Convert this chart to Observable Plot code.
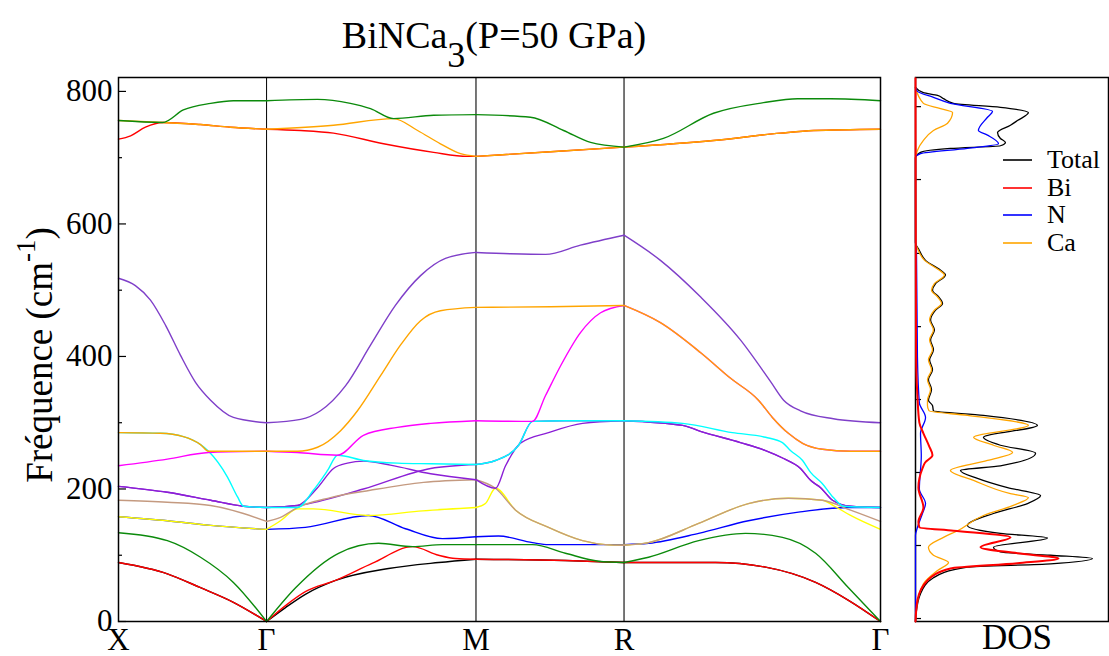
<!DOCTYPE html>
<html><head><meta charset="utf-8">
<script src="https://cdn.jsdelivr.net/npm/d3@7"></script>
<script src="https://cdn.jsdelivr.net/npm/@observablehq/plot@0.6"></script>
<style>
body{margin:0;background:#fff}
#wrap{position:relative;width:1109px;height:656px;overflow:hidden;background:#fff;font-family:"Liberation Serif","Times New Roman",Times,"Nimbus Roman","DejaVu Serif",serif;color:#000}
.abs{position:absolute;white-space:nowrap}
</style></head><body>
<div id="wrap">
  <div id="main" class="abs" style="left:0;top:0"></div>
  <div id="dos" class="abs" style="left:900px;top:0"></div>
  <div id="title" class="abs" style="left:0;top:16px;width:988px;text-align:center;font-size:38px;line-height:38px"></div>
  <div id="ylab" class="abs" style="left:-110px;top:335px;width:300px;height:40px;line-height:40px;font-size:37px;text-align:center;transform:rotate(-90deg)"></div>
  <div id="doslab" class="abs" style="left:917px;top:620px;width:200px;height:35px;text-align:center;font-size:35px;line-height:35px"></div>
  <div id="legend"></div>
</div>
<script>
// ---------- text ----------
const titleMain = "BiNCa", titleSub = "3", titleRest = "(P=50 GPa)";
const yLabelText = "Fréquence (cm", yLabelSup = "-1", yLabelEnd = ")";
const dosLabelText = "DOS";

// ---------- k-path ----------
const kNodes = [0, 0.5, 1.2071, 1.7071, 2.5731];
const kLabels = ["X", "Γ", "M", "R", "Γ"];
const yTicksMajor = [0, 200, 400, 600, 800];
const yTicksMinor = [100, 300, 500, 700];
const dosTicks = [4.5, 114.7, 224.9, 335, 445, 555.5, 667, 777];

// ---------- phonon branches: [k, frequency cm-1] ----------
const black = [[0,89],[0.165,72],[0.277,51],[0.388,29],[0.5,0],[0.564,21],[0.631,41],[0.733,62],[0.912,80],[1.081,89],[1.2071,94],[1.509,92],[1.7071,89],[2.016,89],[2.185,82],[2.354,59],[2.465,32],[2.5731,0]];
const red = [[0,89],[0.165,72],[0.277,51],[0.388,29],[0.5,0],[0.564,24],[0.631,45],[0.733,62],[0.858,88],[0.993,113],[1.081,100],[1.138,95],[1.2071,94],[1.509,92],[1.7071,89],[2.016,89],[2.185,82],[2.354,59],[2.465,32],[2.5731,0]];
const green = [[0,134],[0.165,122],[0.277,97],[0.388,59],[0.5,0],[0.598,51],[0.743,103],[0.878,118],[0.993,113],[1.094,116],[1.2071,116],[1.398,116],[1.509,103],[1.621,91],[1.7071,89],[1.790,97],[1.959,122],[2.117,133],[2.242,127],[2.354,103],[2.465,51],[2.5731,0]];
const blue = [[0,158],[0.165,152],[0.311,145],[0.5,139],[0.631,142],[0.844,160],[0.969,140],[1.094,125],[1.2071,128],[1.283,129],[1.398,119],[1.452,116],[1.7071,116],[1.790,118],[1.959,133],[2.127,152],[2.296,165],[2.465,172],[2.5731,172]];
const yellow = [[0,158],[0.165,152],[0.311,145],[0.5,139],[0.547,152],[0.604,170],[0.658,170],[0.844,160],[1.027,167],[1.2071,172],[1.239,178],[1.273,201],[1.341,168],[1.452,142],[1.567,122],[1.644,116],[1.7071,115],[1.790,119],[1.959,148],[2.127,178],[2.262,186],[2.377,183],[2.414,175],[2.472,160],[2.5731,139]];
const violetB = [[0,204],[0.165,195],[0.311,183],[0.422,174],[0.5,172],[0.604,175],[0.827,200],[1.054,231],[1.2071,237],[1.273,243],[1.351,266],[1.398,302],[1.509,303],[1.7071,303],[1.905,296],[1.965,287],[2.100,270],[2.185,258],[2.246,246],[2.303,231],[2.337,213],[2.371,202],[2.411,183],[2.472,174],[2.5731,172]];
const brown = [[0,183],[0.165,180],[0.311,175],[0.422,163],[0.5,151],[0.547,157],[0.604,172],[0.716,187],[0.85,198],[1.03,210],[1.2071,214],[1.273,201],[1.341,168],[1.452,142],[1.567,122],[1.644,116],[1.7071,115],[1.790,119],[1.959,148],[2.127,178],[2.262,186],[2.377,183],[2.472,168],[2.5731,151]];
const violetA = [[0,204],[0.165,195],[0.311,183],[0.422,174],[0.5,172],[0.604,175],[0.672,202],[0.726,231],[0.773,239],[0.827,242],[0.918,236],[1.054,223],[1.2071,214],[1.273,201],[1.307,235],[1.357,269],[1.452,285],[1.567,299],[1.7071,303],[1.905,296],[1.965,287],[2.100,270],[2.185,258],[2.246,246],[2.303,231],[2.337,213],[2.371,202],[2.411,183],[2.472,174],[2.5731,172]];
const cyan = [[0,285],[0.142,284],[0.219,279],[0.277,267],[0.304,257],[0.368,218],[0.402,188],[0.422,174],[0.5,172],[0.604,172],[0.658,198],[0.706,228],[0.740,251],[0.827,243],[0.942,239],[1.054,238],[1.2071,237],[1.273,243],[1.351,266],[1.398,302],[1.509,303],[1.7071,303],[1.905,299],[2.073,285],[2.185,278],[2.242,270],[2.269,258],[2.310,243],[2.337,225],[2.377,208],[2.414,187],[2.448,174],[2.5731,172]];
const magenta = [[0,235],[0.165,245],[0.304,255],[0.5,257],[0.604,255],[0.740,251],[0.827,281],[0.942,293],[1.054,299],[1.2071,303],[1.398,302],[1.442,341],[1.493,386],[1.560,436],[1.628,466],[1.7071,477],[1.830,451],[1.965,406],[2.067,367],[2.161,334],[2.208,308],[2.262,284],[2.310,269],[2.377,260],[2.472,257],[2.5731,257]];
const orange = [[0,285],[0.142,284],[0.219,279],[0.277,267],[0.304,257],[0.5,257],[0.604,257],[0.672,263],[0.750,288],[0.807,318],[0.885,371],[0.952,417],[1.020,454],[1.087,469],[1.2071,474],[1.459,475],[1.7071,477],[1.830,451],[1.965,406],[2.067,367],[2.161,334],[2.208,308],[2.262,284],[2.310,269],[2.377,260],[2.472,257],[2.5731,257]];
const indigo = [[0,518],[0.057,507],[0.108,485],[0.159,447],[0.209,402],[0.260,361],[0.311,334],[0.388,308],[0.5,300],[0.615,305],[0.682,318],[0.767,356],[0.851,417],[0.935,477],[1.020,522],[1.104,548],[1.2071,557],[1.324,555],[1.442,554],[1.560,568],[1.7071,583],[1.830,545],[1.965,490],[2.100,425],[2.202,362],[2.246,334],[2.303,318],[2.414,306],[2.5731,300]];
const redUp = [[0,728],[0.041,733],[0.091,746],[0.149,753],[0.277,750],[0.378,746],[0.5,743],[0.615,741],[0.726,737],[0.895,721],[1.064,708],[1.178,702],[1.2071,702],[1.459,709],[1.7071,716],[2.009,726],[2.235,737],[2.347,741],[2.5731,743]];
const orangeUp = [[0,756],[0.149,753],[0.277,750],[0.378,746],[0.5,743],[0.726,749],[0.929,759],[1.010,741],[1.087,721],[1.155,706],[1.2071,702],[1.459,709],[1.7071,716],[2.009,726],[2.235,737],[2.347,741],[2.5731,743]];
const greenUp = [[0,756],[0.149,753],[0.219,772],[0.311,782],[0.388,786],[0.5,786],[0.672,788],[0.783,782],[0.851,774],[0.929,759],[1.064,764],[1.2071,765],[1.391,761],[1.503,741],[1.594,723],[1.7071,716],[1.840,729],[2.009,767],[2.178,783],[2.293,789],[2.404,789],[2.5731,786]];

// ---------- DOS: [frequency cm-1, DOS (arb.)] ----------
const dosTotal = [[0,0],[12,0.003],[42,0.026],[66,0.093],[82,0.269],[87,0.70],[95,0.917],[100,0.70],[105,0.44],[112,0.404],[126,0.684],[133,0.44],[145,0.269],[163,0.404],[178,0.58],[190,0.648],[202,0.477],[216,0.321],[228,0.233],[235,0.44],[254,0.622],[266,0.44],[278,0.352],[296,0.632],[311,0.352],[318,0.093],[326,0.088],[334,0.067],[350,0.083],[365,0.067],[380,0.088],[395,0.073],[410,0.093],[425,0.078],[440,0.098],[455,0.078],[470,0.104],[480,0.14],[490,0.12],[500,0.088],[510,0.104],[523,0.155],[530,0.13],[545,0.052],[560,0.02],[572,0],[700,0],[708,0.026],[714,0.181],[718,0.44],[723,0.466],[729,0.44],[738,0.425],[749,0.492],[756,0.528],[768,0.585],[776,0.44],[782,0.197],[789,0.145],[794,0.114],[798,0.041],[806,0]];
const dosBi = [[0,0],[32,0.01],[62,0.062],[80,0.181],[88,0.528],[95,0.741],[103,0.528],[112,0.337],[127,0.492],[137,0.197],[142,0.02],[150,0.015],[172,0.041],[202,0.015],[231,0.036],[240,0.05],[251,0.088],[265,0.07],[284,0.041],[300,0.02],[340,0.01],[400,0.003],[820,0]];
const dosN = [[0,0],[130,0],[142,0.01],[163,0.036],[178,0.052],[200,0.02],[250,0.03],[284,0.026],[308,0.052],[330,0.02],[400,0.01],[560,0.005],[572,0],[700,0],[706,0.026],[714,0.269],[721,0.43],[734,0.373],[741,0.326],[761,0.373],[770,0.399],[782,0.181],[791,0.093],[800,0.01],[806,0]];
const dosCa = [[0,0],[21,0.005],[57,0.041],[77,0.114],[89,0.171],[100,0.093],[112,0.067],[127,0.145],[137,0.218],[160,0.352],[175,0.503],[187,0.585],[193,0.492],[213,0.301],[228,0.181],[243,0.373],[255,0.503],[266,0.404],[278,0.301],[296,0.585],[311,0.269],[318,0.07],[326,0.062],[334,0.062],[350,0.078],[365,0.062],[380,0.083],[395,0.067],[410,0.088],[425,0.073],[440,0.093],[455,0.073],[470,0.098],[480,0.135],[490,0.114],[500,0.083],[510,0.098],[523,0.15],[530,0.124],[545,0.047],[560,0.015],[572,0],[700,0],[711,0.01],[726,0.041],[741,0.093],[752,0.166],[768,0.192],[774,0.13],[782,0.041],[806,0]];
const dosNames = ["Total", "Bi", "N", "Ca"];

// ---------- styles ----------
const bands = {black, red, green, blue, yellow, violetB, brown, violetA, cyan, magenta, orange, indigo, redUp, orangeUp, greenUp};
const bandColors = {black:"#000000", red:"#ff0000", green:"#0b8a0b", blue:"#0000ff", yellow:"#ffff00", violetB:"#8b1fd6", brown:"#c49a80", violetA:"#8b1fd6", cyan:"#00ffff", magenta:"#ff00ff", orange:"#ffa500", indigo:"#7f3fc9", redUp:"#ff0000", orangeUp:"#ffa500", greenUp:"#0b8a0b"};
const dosColors = {Total:"#000000", Bi:"#ff0000", N:"#0000ff", Ca:"#ffa500"};
const dosData = {Total: dosTotal, Bi: dosBi, N: dosN, Ca: dosCa};
const serif = '"Liberation Serif","Times New Roman",Times,"Nimbus Roman","DejaVu Serif",serif';

function splitAtNodes(pts) {
  const segs = []; let cur = [];
  pts.forEach((p, i) => {
    cur.push(p);
    if (i > 0 && i < pts.length - 1 && kNodes.includes(p[0])) { segs.push(cur); cur = [p]; }
  });
  segs.push(cur);
  return segs;
}

const bandMarks = Object.entries(bands).map(([name, pts]) => {
  const rows = [];
  splitAtNodes(pts).forEach((seg, s) => seg.forEach(p => rows.push({k: p[0], f: p[1], s})));
  return Plot.line(rows, {x: "k", y: "f", z: "s", stroke: bandColors[name], strokeWidth: 1.4, curve: "monotone-x"});
});

const W = 900, ML = 118, MR = 20;
const frameW = W - ML - MR;
const main = Plot.plot({
  width: W, height: 656,
  marginLeft: ML, marginRight: MR, marginTop: 77, marginBottom: 35,
  x: {domain: [0, kNodes[4]]},
  y: {domain: [0, 821]},
  style: {fontFamily: serif, background: "transparent", overflow: "visible", color: "black"},
  marks: [
    Plot.ruleX([kNodes[1]], {stroke: "black", strokeWidth: 1}),
    Plot.ruleX([kNodes[2], kNodes[3]], {stroke: "#555", strokeWidth: 1.6}),
    ...bandMarks,
    Plot.ruleY(yTicksMajor, {stroke: "black", strokeWidth: 1.2, insetRight: frameW - 8}),
    Plot.ruleY(yTicksMinor, {stroke: "black", strokeWidth: 1.2, insetRight: frameW - 4}),
    Plot.frame({stroke: "black", strokeWidth: 1.5}),
    Plot.axisX({ticks: kNodes, tickFormat: d => kLabels[kNodes.indexOf(d)], tickSize: 0, tickPadding: 6, fontSize: 31, fontFamily: serif, label: null}),
    Plot.axisY({ticks: yTicksMajor, tickSize: 0, tickPadding: 6, fontSize: 31, fontFamily: serif, label: null})
  ]
});
document.getElementById("main").append(main);

const DW = 209, DML = 15, DMR = 1;
const dosFrameW = DW - DML - DMR;
const dos = Plot.plot({
  width: DW, height: 656,
  marginLeft: DML, marginRight: DMR, marginTop: 77, marginBottom: 35,
  x: {domain: [0, 1], axis: null},
  y: {domain: [0, 821], axis: null},
  style: {fontFamily: serif, background: "transparent", overflow: "visible"},
  marks: [
    Plot.frame({stroke: "black", strokeWidth: 1.5}),
    Plot.ruleY(dosTicks, {stroke: "black", strokeWidth: 1.2, insetRight: dosFrameW - 6}),
    ...["Total", "Ca", "N", "Bi"].map(n => Plot.line(dosData[n], {x: d => d[1], y: d => d[0], stroke: dosColors[n], strokeWidth: n === "Bi" ? 2 : 1.3, curve: "monotone-y"}))
  ]
});
document.getElementById("dos").append(dos);

// ---------- texts ----------
const t = document.getElementById("title");
t.append(titleMain);
const sub = document.createElement("span");
sub.textContent = titleSub;
sub.style.cssText = "font-size:36px;position:relative;top:19px";
t.append(sub, titleRest);

const yl = document.getElementById("ylab");
yl.append(yLabelText);
const sup = document.createElement("span");
sup.textContent = yLabelSup;
sup.style.cssText = "font-size:27px;position:relative;top:-17px";
yl.append(sup, yLabelEnd);

document.getElementById("doslab").textContent = dosLabelText;

// legend (inline SVG for the swatches, HTML for the labels)
const lg = document.getElementById("legend");
const ns = "http://www.w3.org/2000/svg";
const sw = document.createElementNS(ns, "svg");
sw.setAttribute("width", 40); sw.setAttribute("height", 120);
sw.style.cssText = "position:absolute;left:1000px;top:140px";
lg.append(sw);
dosNames.forEach((n, i) => {
  const ly = 160 + Math.round(i * 27.7);
  const ln = document.createElementNS(ns, "line");
  ln.setAttribute("x1", 3); ln.setAttribute("x2", 32);
  ln.setAttribute("y1", ly - 140); ln.setAttribute("y2", ly - 140);
  ln.setAttribute("stroke", dosColors[n]); ln.setAttribute("stroke-width", 1.6);
  sw.append(ln);
  const txt = document.createElement("div");
  txt.className = "abs";
  txt.style.cssText = `left:1047px;top:${ly - 11}px;font-size:26px;line-height:22px;height:22px`;
  txt.textContent = n;
  lg.append(txt);
});
</script>
</body></html>
